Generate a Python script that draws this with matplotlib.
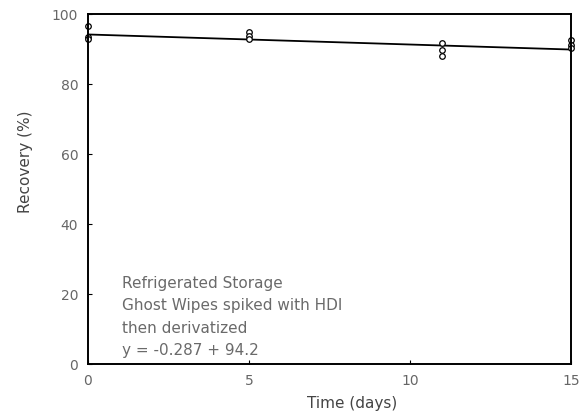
import matplotlib
matplotlib.use("Agg")
import matplotlib.pyplot as plt
import numpy as np

days = [0, 0, 0, 5, 5, 5, 11, 11, 11, 15, 15, 15]
recovery = [96.5, 93.5, 93.0, 94.8, 93.8, 93.0, 91.8, 89.8, 88.0, 92.5, 91.3, 90.3]
slope = -0.287
intercept = 94.2

fig = plt.figure(figsize=(5.86, 4.17), dpi=100)
ax = fig.add_axes([0.150, 0.127, 0.824, 0.839])

xfit = np.array([0, 15])
ax.plot(xfit, intercept + slope * xfit, color='black', lw=1.3)
ax.plot(days, recovery, linestyle='none', marker='o', markersize=4,
        markerfacecolor='white', markeredgecolor='black', markeredgewidth=0.9, clip_on=False)

ax.set_xlim(0, 15)
ax.set_ylim(0, 100)
ax.set_xticks([0, 5, 10, 15])
ax.set_yticks([0, 20, 40, 60, 80, 100])
ax.tick_params(direction='in', length=3, labelsize=10, labelcolor='#666666', pad=7)
for s in ax.spines.values():
    s.set_linewidth(1.4)
ax.set_xlabel("Time (days)", fontsize=11, color='#444444')
ax.xaxis.set_label_coords(0.547, -0.09)
ax.set_ylabel("Recovery (%)", fontsize=11, color='#444444')
ax.yaxis.set_label_coords(-0.114, 0.577)

txt = "Refrigerated Storage\nGhost Wipes spiked with HDI\nthen derivatized\ny = -0.287 + 94.2"
ax.text(0.07, 0.252, txt, transform=ax.transAxes, fontsize=11, color='#6a6a6a',
        linespacing=1.62, va='top', ha='left')

plt.savefig("out.png")
